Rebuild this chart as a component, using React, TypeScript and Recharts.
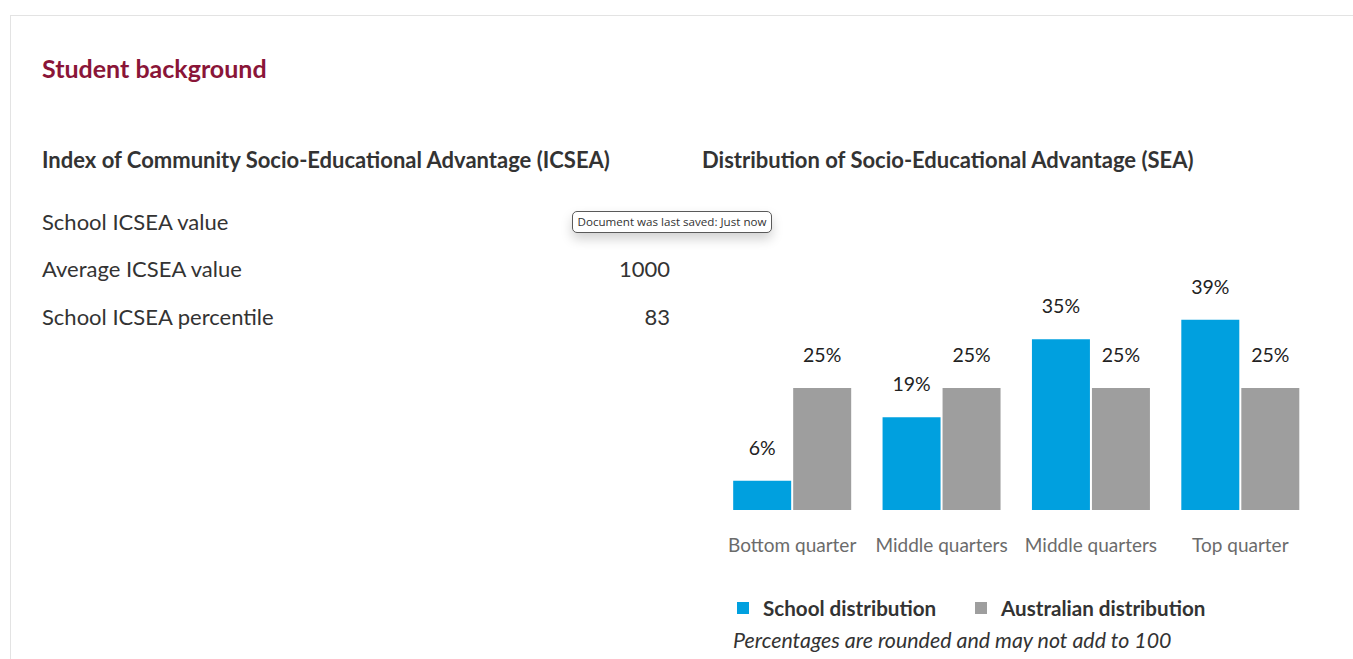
import React from 'react';
import { BarChart, Bar, XAxis, YAxis, LabelList } from 'recharts';

const categories = ['Bottom quarter', 'Middle quarters', 'Middle quarters', 'Top quarter'];
const schoolValues = [6, 19, 35, 39];
const australianValues = [25, 25, 25, 25];
const seriesNames = ['School distribution', 'Australian distribution'];
const seriesColors = ['#00A0DF', '#9E9E9E'];
const icseaLabels = ['School ICSEA value', 'Average ICSEA value', 'School ICSEA percentile'];
const icseaValues = ['', '1000', '83'];

const data = categories.map((c, i) => ({
  category: c,
  school: schoolValues[i],
  australian: australianValues[i],
}));

const FONT = 'Lato, "Open Sans", sans-serif';

const CategoryTick = (props: any) => {
  const { x, y, payload } = props;
  return (
    <text x={x} y={y + 34} textAnchor="middle" dominantBaseline="central" fill="#6b6b6b" fontSize={19} fontFamily={FONT}>
      {payload.value}
    </text>
  );
};

const fmt = (v: any) => `${v}%`;

export default function App() {
  const rowTops = [222, 269, 317];
  return (
    <div style={{ position: 'absolute', left: 0, top: 0, width: 1353, height: 659, background: '#fff', overflow: 'hidden', fontFamily: FONT, color: '#333' }}>
      {/* card border */}
      <div style={{ position: 'absolute', left: 10, top: 15, width: 1400, height: 700, borderLeft: '1px solid #e3e3e3', borderTop: '1px solid #e3e3e3' }} />
      <div style={{ position: 'absolute', left: 42, top: 54, height: 28, lineHeight: '28px', fontSize: 25, fontWeight: 700, color: '#8A1538', whiteSpace: 'nowrap' }}>
        Student background
      </div>
      <div style={{ position: 'absolute', left: 42, top: 146, height: 28, lineHeight: '28px', fontSize: 22, fontWeight: 700, color: '#333', whiteSpace: 'nowrap' }}>
        Index of Community Socio-Educational Advantage (ICSEA)
      </div>
      <div style={{ position: 'absolute', left: 702, top: 146, height: 28, lineHeight: '28px', fontSize: 22, fontWeight: 700, color: '#333', whiteSpace: 'nowrap' }}>
        Distribution of Socio-Educational Advantage (SEA)
      </div>
      {icseaLabels.map((l, i) => (
        <React.Fragment key={i}>
          <div style={{ position: 'absolute', left: 42, top: rowTops[i] - 14, height: 28, lineHeight: '28px', fontSize: 22, whiteSpace: 'nowrap' }}>{l}</div>
          <div style={{ position: 'absolute', left: 470, width: 200, textAlign: 'right', top: rowTops[i] - 14, height: 28, lineHeight: '28px', fontSize: 22 }}>{icseaValues[i]}</div>
        </React.Fragment>
      ))}
      {/* tooltip overlay */}
      <div style={{ position: 'absolute', left: 572, top: 211, width: 198, height: 20, border: '1.5px solid #5a5a5a', borderRadius: 5, background: '#fff', boxShadow: '0 6px 12px rgba(0,0,0,0.18)', fontFamily: '"Open Sans", sans-serif', fontSize: 11.6, lineHeight: '20px', textAlign: 'center', color: '#333', whiteSpace: 'nowrap' }}>
        Document was last saved: Just now
      </div>

      <div style={{ position: 'absolute', left: 700, top: 250 }}>
        <BarChart width={640} height={320} data={data} margin={{ top: 16, right: 25, bottom: 20, left: 17.5 }} barGap={2} barCategoryGap="10.5%">
          <XAxis dataKey="category" axisLine={false} tickLine={false} tickSize={0} tickMargin={0} height={40} tick={<CategoryTick />} interval={0} />
          <YAxis hide domain={[0, 50]} />
          <Bar dataKey="school" name={seriesNames[0]} fill={seriesColors[0]} isAnimationActive={false}>
            <LabelList dataKey="school" position="top" offset={26} formatter={fmt} fill="#222" fontSize={19.5} fontFamily={FONT} />
          </Bar>
          <Bar dataKey="australian" name={seriesNames[1]} fill={seriesColors[1]} isAnimationActive={false}>
            <LabelList dataKey="australian" position="top" offset={26} formatter={fmt} fill="#222" fontSize={19.5} fontFamily={FONT} />
          </Bar>
        </BarChart>
      </div>

      {/* legend */}
      <div style={{ position: 'absolute', left: 737, top: 602, width: 12, height: 12, background: seriesColors[0] }} />
      <div style={{ position: 'absolute', left: 763, top: 594, height: 28, lineHeight: '28px', fontSize: 20.6, fontWeight: 700, color: '#333', whiteSpace: 'nowrap' }}>{seriesNames[0]}</div>
      <div style={{ position: 'absolute', left: 975, top: 602, width: 12, height: 12, background: seriesColors[1] }} />
      <div style={{ position: 'absolute', left: 1001, top: 594, height: 28, lineHeight: '28px', fontSize: 20.6, fontWeight: 700, color: '#333', whiteSpace: 'nowrap' }}>{seriesNames[1]}</div>
      <div style={{ position: 'absolute', left: 733, top: 626, height: 28, lineHeight: '28px', fontSize: 21.4, fontStyle: 'italic', color: '#333', whiteSpace: 'nowrap' }}>
        Percentages are rounded and may not add to 100
      </div>
    </div>
  );
}
